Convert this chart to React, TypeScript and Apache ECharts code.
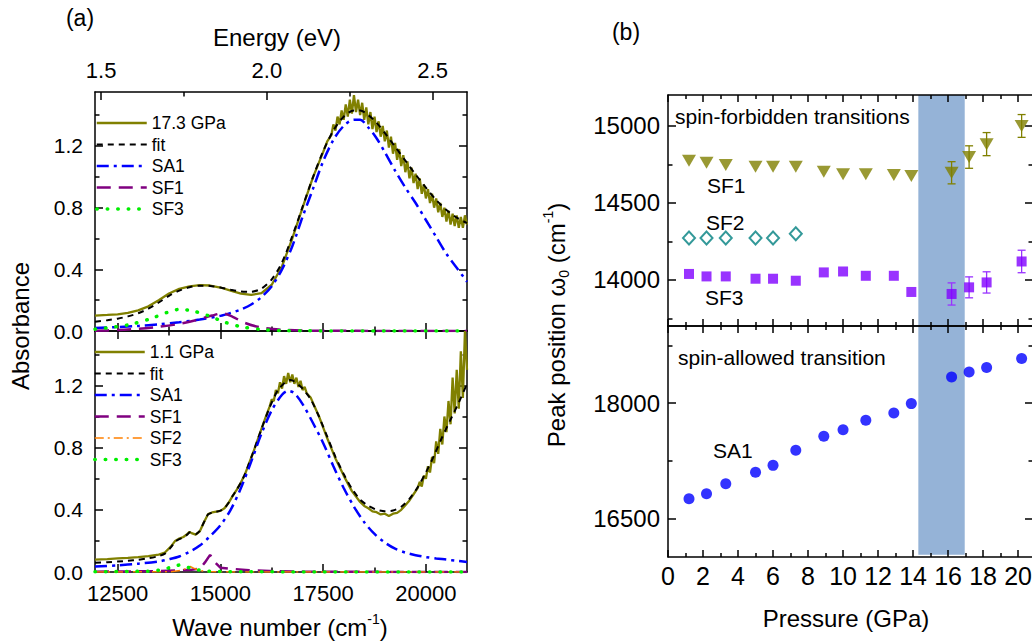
import React, { useEffect, useRef } from "react";
import * as echarts from "echarts";

const FONT = '"Liberation Sans", Arial, Helvetica, sans-serif';
const EV_TO_CM = 8065.54;

// ---------- ranges and ticks ----------
const waveRange: [number, number] = [11950, 21000];
const absRange: [number, number] = [0, 1.55];
const pressureRange: [number, number] = [0, 20.85];
const sfRange: [number, number] = [13700, 15200];
const saRange: [number, number] = [16000, 19000];

const waveMajorTicks = [12500, 15000, 17500, 20000];
const waveMinorTicks = [13750, 16250, 18750];
const energyMajorTicks = [1.5, 2.0, 2.5];
const energyMinorTicks = [1.75, 2.25];
const absMajorTicks = [0, 0.4, 0.8, 1.2];
const absMinorTicks = [0.2, 0.6, 1.0, 1.4];
const pressureMajorTicks = [0, 2, 4, 6, 8, 10, 12, 14, 16, 18, 20];
const pressureMinorTicks = [1, 3, 5, 7, 9, 11, 13, 15, 17, 19];
const sfMajorTicks = [14000, 14500, 15000];
const sfMinorTicks = [13750, 14250, 14750];
const saMajorTicks = [16500, 18000];
const saMinorTicks = [17250, 18750];

// ---------- panel (a), 17.3 GPa ----------
const spec173: number[][] = [
  [11950, 0.1], [12250, 0.104], [12500, 0.108], [12750, 0.118], [13000, 0.134], [13250, 0.16],
  [13500, 0.2], [13750, 0.243], [14000, 0.273], [14250, 0.29], [14500, 0.298], [14750, 0.295],
  [15000, 0.282], [15250, 0.262], [15500, 0.243], [15750, 0.234], [16000, 0.246], [16250, 0.3],
  [16500, 0.42], [16750, 0.6], [17000, 0.8], [17250, 0.995], [17500, 1.16], [17600, 1.23],
  [17700, 1.27], [17750, 1.34], [17800, 1.3], [17850, 1.39], [17900, 1.34], [17950, 1.43],
  [18000, 1.37], [18050, 1.47], [18100, 1.39], [18150, 1.5], [18200, 1.41], [18250, 1.53],
  [18300, 1.42], [18350, 1.5], [18400, 1.4], [18450, 1.48], [18500, 1.37], [18550, 1.45],
  [18600, 1.34], [18650, 1.42], [18700, 1.31], [18750, 1.39], [18800, 1.29], [18850, 1.36],
  [18900, 1.26], [18950, 1.33], [19000, 1.23], [19050, 1.3], [19100, 1.19], [19150, 1.26],
  [19200, 1.15], [19250, 1.22], [19300, 1.11], [19350, 1.18], [19400, 1.07], [19450, 1.14],
  [19500, 1.03], [19550, 1.1], [19600, 0.99], [19650, 1.06], [19700, 0.96], [19750, 1.02],
  [19800, 0.92], [19850, 0.99], [19900, 0.89], [19950, 0.95], [20000, 0.86], [20050, 0.92],
  [20100, 0.83], [20150, 0.89], [20200, 0.8], [20250, 0.86], [20300, 0.77], [20350, 0.83],
  [20400, 0.74], [20450, 0.8], [20500, 0.71], [20550, 0.78], [20600, 0.69], [20650, 0.76],
  [20700, 0.68], [20750, 0.75], [20800, 0.67], [20850, 0.74], [20900, 0.67], [20950, 0.75],
  [21000, 0.69],
];
const fit173: number[][] = [
  [11950, 0.06], [12250, 0.07], [12500, 0.08], [12750, 0.095], [13000, 0.115], [13250, 0.145],
  [13500, 0.185], [13750, 0.228], [14000, 0.262], [14250, 0.284], [14500, 0.294], [14750, 0.292],
  [15000, 0.282], [15250, 0.268], [15500, 0.257], [15750, 0.255], [16000, 0.275], [16250, 0.335],
  [16500, 0.445], [16750, 0.615], [17000, 0.805], [17250, 0.995], [17500, 1.165], [17750, 1.3],
  [18000, 1.39], [18250, 1.43], [18400, 1.43], [18600, 1.4], [18800, 1.35], [19000, 1.285],
  [19250, 1.195], [19500, 1.105], [19750, 1.015], [20000, 0.93], [20250, 0.85], [20500, 0.785],
  [20750, 0.735], [21000, 0.7],
];
const sa1_173: number[][] = [
  [11950, 0.02], [12500, 0.025], [13000, 0.033], [13500, 0.043], [14000, 0.057], [14500, 0.075],
  [15000, 0.098], [15250, 0.117], [15500, 0.14], [15750, 0.172], [16000, 0.22], [16250, 0.29],
  [16500, 0.4], [16750, 0.55], [17000, 0.74], [17250, 0.92], [17500, 1.1], [17750, 1.24],
  [18000, 1.33], [18250, 1.37], [18400, 1.37], [18600, 1.32], [18800, 1.25], [19000, 1.16],
  [19250, 1.04], [19500, 0.93], [19750, 0.83], [20000, 0.72], [20250, 0.61], [20500, 0.5],
  [20750, 0.41], [21000, 0.32],
];
const sf1_173: number[][] = [
  [11950, 0.002], [12500, 0.006], [13000, 0.014], [13500, 0.027], [14000, 0.046], [14400, 0.07],
  [14800, 0.1], [15050, 0.115], [15300, 0.092], [15600, 0.052], [16000, 0.022], [16500, 0.008],
  [17000, 0.003], [18000, 0.001], [21000, 0],
];
const sf3_173: number[][] = [
  [11950, 0.012], [12300, 0.022], [12800, 0.042], [13300, 0.08], [13700, 0.12], [14000, 0.14],
  [14300, 0.132], [14700, 0.1], [15100, 0.058], [15500, 0.028], [16000, 0.01], [16500, 0.003],
  [17000, 0.001], [21000, 0],
];

// ---------- panel (a), 1.1 GPa ----------
const spec11: number[][] = [
  [11950, 0.08], [12250, 0.083], [12500, 0.087], [12750, 0.091], [13000, 0.096], [13250, 0.102],
  [13500, 0.112], [13650, 0.125], [13800, 0.165], [13900, 0.2], [14000, 0.215], [14100, 0.225],
  [14200, 0.245], [14250, 0.258], [14300, 0.25], [14400, 0.24], [14500, 0.262], [14600, 0.32],
  [14700, 0.372], [14800, 0.383], [14900, 0.388], [15000, 0.393], [15100, 0.41], [15200, 0.445],
  [15300, 0.49], [15400, 0.53], [15500, 0.575], [15600, 0.63], [15700, 0.7], [15800, 0.77],
  [15900, 0.845], [16000, 0.92], [16100, 0.995], [16200, 1.065], [16250, 1.11], [16300, 1.1],
  [16350, 1.17], [16400, 1.15], [16450, 1.22], [16500, 1.18], [16550, 1.26], [16600, 1.21],
  [16650, 1.28], [16700, 1.22], [16750, 1.27], [16800, 1.21], [16850, 1.25], [16900, 1.19],
  [16950, 1.23], [17000, 1.17], [17050, 1.19], [17100, 1.15], [17200, 1.12], [17300, 1.06],
  [17400, 1.0], [17500, 0.93], [17600, 0.86], [17700, 0.795], [17800, 0.73], [17900, 0.675],
  [18000, 0.62], [18100, 0.57], [18200, 0.52], [18300, 0.485], [18400, 0.45], [18500, 0.425],
  [18600, 0.41], [18700, 0.39], [18800, 0.385], [18900, 0.37], [19000, 0.375], [19100, 0.36],
  [19200, 0.375], [19300, 0.38], [19400, 0.4], [19500, 0.43], [19600, 0.46], [19700, 0.5],
  [19800, 0.54], [19850, 0.58], [19900, 0.55], [19950, 0.62], [20000, 0.6], [20050, 0.68],
  [20100, 0.64], [20150, 0.74], [20200, 0.7], [20250, 0.84], [20300, 0.76], [20350, 0.92],
  [20400, 0.82], [20450, 1.0], [20500, 0.9], [20550, 1.1], [20600, 0.95], [20650, 1.25],
  [20700, 1.02], [20750, 1.3], [20800, 1.05], [20850, 1.42], [20900, 1.12], [20950, 1.55],
  [21000, 1.3],
];
const fit11: number[][] = [
  [11950, 0.06], [12250, 0.063], [12500, 0.067], [12750, 0.072], [13000, 0.079], [13250, 0.088],
  [13500, 0.102], [13650, 0.118], [13800, 0.16], [13900, 0.195], [14000, 0.212], [14100, 0.222],
  [14200, 0.242], [14250, 0.255], [14300, 0.25], [14400, 0.243], [14500, 0.265], [14600, 0.32],
  [14700, 0.37], [14800, 0.383], [14900, 0.388], [15000, 0.395], [15100, 0.41], [15200, 0.445],
  [15300, 0.49], [15400, 0.53], [15500, 0.575], [15600, 0.63], [15700, 0.7], [15800, 0.77],
  [15900, 0.845], [16000, 0.92], [16200, 1.06], [16400, 1.17], [16600, 1.225], [16700, 1.235],
  [16800, 1.225], [17000, 1.18], [17200, 1.11], [17400, 1.0], [17600, 0.87], [17800, 0.74],
  [18000, 0.63], [18200, 0.535], [18400, 0.465], [18600, 0.425], [18800, 0.4], [19000, 0.39],
  [19200, 0.395], [19400, 0.42], [19600, 0.47], [19800, 0.545], [20000, 0.64], [20200, 0.75],
  [20400, 0.87], [20600, 0.98], [20800, 1.09], [21000, 1.21],
];
const sa1_11: number[][] = [
  [11950, 0.035], [12500, 0.043], [13000, 0.053], [13500, 0.068], [13750, 0.082], [14000, 0.1],
  [14250, 0.13], [14500, 0.17], [14750, 0.23], [15000, 0.3], [15250, 0.4], [15500, 0.54],
  [15750, 0.71], [16000, 0.89], [16250, 1.04], [16500, 1.14], [16650, 1.165], [16800, 1.15],
  [17000, 1.08], [17250, 0.96], [17500, 0.83], [17750, 0.68], [18000, 0.54], [18250, 0.42],
  [18500, 0.32], [18750, 0.245], [19000, 0.19], [19250, 0.15], [19500, 0.125], [19750, 0.108],
  [20000, 0.096], [20250, 0.087], [20500, 0.08], [20750, 0.072], [21000, 0.065],
];
const sf1_11: number[][] = [
  [11950, 0.002], [13000, 0.004], [13500, 0.006], [14000, 0.01], [14300, 0.015], [14500, 0.022],
  [14620, 0.06], [14750, 0.11], [14880, 0.06], [15000, 0.028], [15300, 0.02], [15700, 0.012],
  [16200, 0.006], [17000, 0.003], [18000, 0.001], [21000, 0],
];
const sf2_11: number[][] = [
  [11950, 0], [13800, 0.002], [14050, 0.01], [14180, 0.025], [14265, 0.035], [14350, 0.025],
  [14480, 0.01], [14700, 0.003], [15500, 0], [21000, 0],
];
const sf3_11: number[][] = [
  [11950, 0.001], [13300, 0.005], [13600, 0.015], [13850, 0.035], [14000, 0.045], [14150, 0.035],
  [14400, 0.015], [14700, 0.005], [15300, 0.001], [21000, 0],
];

// ---------- panel (b) ----------
const pressures = [1.2, 2.2, 3.3, 5.0, 6.0, 7.3, 8.9, 10.0, 11.3, 12.9, 13.9, 16.2, 17.2, 18.2, 20.2];
const sf1Pos = [14773, 14760, 14745, 14734, 14734, 14734, 14702, 14685, 14685, 14681, 14674, 14695, 14797, 14881, 14999];
const sf1Err = [0, 0, 0, 0, 0, 0, 0, 0, 0, 0, 0, 72, 73, 75, 74];
const sf2Pressures = [1.2, 2.2, 3.3, 5.0, 6.0, 7.3];
const sf2Pos = [14271, 14271, 14271, 14271, 14271, 14299];
const sf3Pos = [14038, 14022, 14022, 14007, 14007, 13994, 14048, 14054, 14026, 14026, 13921, 13908, 13951, 13983, 14119];
const sf3Err = [0, 0, 0, 0, 0, 0, 0, 0, 0, 0, 0, 72, 68, 69, 73];
const sa1Pos = [16756, 16821, 16951, 17102, 17190, 17385, 17567, 17653, 17775, 17870, 17992, 18338, 18403, 18460, 18577];
const bandPressure = [14.3, 16.95];

const legendTop = ["17.3 GPa", "fit", "SA1", "SF1", "SF3"];
const legendBottom = ["1.1 GPa", "fit", "SA1", "SF1", "SF2", "SF3"];

const AX = { color: "#000", width: 1.5 };
const plain = (v: number) => String(v);

function mkAxis(
  gridIndex: number,
  position: string,
  range: [number, number],
  ticks: number[],
  tickLen: number,
  showLine: boolean,
  label?: any
) {
  return {
    type: "value",
    gridIndex,
    position,
    min: range[0],
    max: range[1],
    axisLine: { show: showLine, onZero: false, lineStyle: AX },
    axisTick: { show: true, inside: true, length: tickLen, customValues: ticks, lineStyle: AX },
    axisLabel: label
      ? { show: true, color: "#000", fontFamily: FONT, formatter: plain, ...label }
      : { show: false },
    splitLine: { show: false },
    minorTick: { show: false },
  };
}

function lineSeries(name: string, data: number[][], panel: number, lineStyle: any, smooth: any = false) {
  const idx = panel === 0 ? 0 : 4;
  return {
    type: "line",
    name,
    data,
    xAxisIndex: idx,
    yAxisIndex: idx,
    symbol: "none",
    showSymbol: false,
    smooth,
    clip: true,
    silent: true,
    lineStyle,
    itemStyle: { color: lineStyle.color },
  };
}

const dataStyle = { color: "#808000", width: 2.3, type: "solid" };
const fitStyle = { color: "#000000", width: 2, type: [6, 5] };
const sa1Style = { color: "#0000ff", width: 2.5, type: [12, 5, 3, 5] };
const sf1Style = { color: "#800080", width: 2.5, type: [14, 8] };
const sf2Style = { color: "#ff8000", width: 1.5, type: [9, 4, 2, 4] };
const sf3Style = { color: "#00ee00", width: 3.5, type: [0.5, 10], cap: "round" };

function bandSeries(xi: number, yi: number, yLow: number, yHigh: number) {
  return {
    type: "custom",
    xAxisIndex: xi,
    yAxisIndex: yi,
    z: -1,
    silent: true,
    data: [[bandPressure[0], bandPressure[1], yLow, yHigh]],
    renderItem: (_p: any, api: any) => {
      const a = api.coord([api.value(0), api.value(3)]);
      const b = api.coord([api.value(1), api.value(2)]);
      return {
        type: "rect",
        shape: { x: a[0], y: a[1], width: b[0] - a[0], height: b[1] - a[1] },
        style: { fill: "#95b3d7" },
      };
    },
  };
}

function errSeries(values: number[], errs: number[], color: string) {
  return {
    type: "custom",
    xAxisIndex: 10,
    yAxisIndex: 8,
    z: 3,
    silent: true,
    data: pressures.map((p, i) => [p, values[i], errs[i]]).filter((d) => d[2] > 0),
    renderItem: (_p: any, api: any) => {
      const x = api.value(0);
      const y = api.value(1);
      const e = api.value(2);
      const t = api.coord([x, y + e]);
      const b = api.coord([x, y - e]);
      const cw = 4;
      const st = { stroke: color, lineWidth: 1.3 };
      return {
        type: "group",
        children: [
          { type: "line", shape: { x1: t[0], y1: t[1], x2: b[0], y2: b[1] }, style: st },
          { type: "line", shape: { x1: t[0] - cw, y1: t[1], x2: t[0] + cw, y2: t[1] }, style: st },
          { type: "line", shape: { x1: b[0] - cw, y1: b[1], x2: b[0] + cw, y2: b[1] }, style: st },
        ],
      };
    },
  };
}

function txt(x: number, y: number, text: string, size: number, extra: any = {}) {
  return {
    type: "text",
    x,
    y,
    silent: true,
    style: {
      text,
      fill: "#000",
      fontSize: size,
      fontFamily: FONT,
      align: "left",
      verticalAlign: "middle",
      ...extra,
    },
  };
}

const richTitle = {
  n: { fontSize: 24, fontFamily: FONT, lineHeight: 30, fill: "#000" },
  s: { fontSize: 14, fontFamily: FONT, lineHeight: 14, verticalAlign: "top", fill: "#000" },
  b: { fontSize: 14, fontFamily: FONT, lineHeight: 14, verticalAlign: "bottom", fill: "#000" },
};

export default function App() {
  const ref = useRef<HTMLDivElement>(null);

  useEffect(() => {
    if (!ref.current) return;
    const chart = echarts.init(ref.current, undefined, { renderer: "svg" });

    const xAxes = [
      mkAxis(0, "bottom", waveRange, waveMajorTicks, 8, true), // 0
      mkAxis(0, "bottom", waveRange, waveMinorTicks, 4.5, false), // 1
      mkAxis(0, "top", waveRange, energyMajorTicks.map((e) => e * EV_TO_CM), 8, true, {
        customValues: energyMajorTicks.map((e) => e * EV_TO_CM),
        formatter: (v: number) => (v / EV_TO_CM).toFixed(1),
        fontSize: 22,
        margin: 11,
      }), // 2
      mkAxis(0, "top", waveRange, energyMinorTicks.map((e) => e * EV_TO_CM), 4.5, false), // 3
      mkAxis(1, "bottom", waveRange, waveMajorTicks, 8, true, {
        customValues: waveMajorTicks,
        fontSize: 22,
        margin: 10,
      }), // 4
      mkAxis(1, "bottom", waveRange, waveMinorTicks, 4.5, false), // 5
      mkAxis(1, "top", waveRange, waveMajorTicks, 8, true), // 6
      mkAxis(1, "top", waveRange, waveMinorTicks, 4.5, false), // 7
      mkAxis(2, "top", pressureRange, pressureMajorTicks, 7, true), // 8
      mkAxis(2, "top", pressureRange, pressureMinorTicks, 4, false), // 9
      mkAxis(2, "bottom", pressureRange, pressureMajorTicks, 7, true), // 10
      mkAxis(2, "bottom", pressureRange, pressureMinorTicks, 4, false), // 11
      mkAxis(3, "top", pressureRange, pressureMajorTicks, 7, true), // 12
      mkAxis(3, "top", pressureRange, pressureMinorTicks, 4, false), // 13
      mkAxis(3, "bottom", pressureRange, pressureMajorTicks, 7, true, {
        customValues: pressureMajorTicks,
        fontSize: 25,
        margin: 6,
      }), // 14
      mkAxis(3, "bottom", pressureRange, pressureMinorTicks, 4, false), // 15
    ];

    const absLabel = {
      customValues: absMajorTicks,
      formatter: (v: number) => v.toFixed(1),
      fontSize: 21,
      margin: 12,
    };
    const yAxes = [
      mkAxis(0, "left", absRange, absMajorTicks, 8, true, absLabel), // 0
      mkAxis(0, "left", absRange, absMinorTicks, 4.5, false), // 1
      mkAxis(0, "right", absRange, absMajorTicks, 8, true), // 2
      mkAxis(0, "right", absRange, absMinorTicks, 4.5, false), // 3
      mkAxis(1, "left", absRange, absMajorTicks, 8, true, absLabel), // 4
      mkAxis(1, "left", absRange, absMinorTicks, 4.5, false), // 5
      mkAxis(1, "right", absRange, absMajorTicks, 8, true), // 6
      mkAxis(1, "right", absRange, absMinorTicks, 4.5, false), // 7
      mkAxis(2, "left", sfRange, sfMajorTicks, 8, true, {
        customValues: sfMajorTicks,
        fontSize: 24,
        margin: 8,
      }), // 8
      mkAxis(2, "left", sfRange, sfMinorTicks, 4.5, false), // 9
      mkAxis(2, "right", sfRange, sfMajorTicks, 8, true), // 10
      mkAxis(2, "right", sfRange, sfMinorTicks, 4.5, false), // 11
      mkAxis(3, "left", saRange, saMajorTicks, 8, true, {
        customValues: saMajorTicks,
        fontSize: 24,
        margin: 8,
      }), // 12
      mkAxis(3, "left", saRange, saMinorTicks, 4.5, false), // 13
      mkAxis(3, "right", saRange, saMajorTicks, 8, true), // 14
      mkAxis(3, "right", saRange, saMinorTicks, 4.5, false), // 15
    ];

    const legendCommon = {
      orient: "vertical",
      itemWidth: 50,
      itemHeight: 14,
      itemGap: 1.5,
      padding: 0,
      selectedMode: false,
      itemStyle: { opacity: 0 },
      lineStyle: { width: "inherit" },
      textStyle: { fontSize: 17.5, fontFamily: FONT, color: "#000", lineHeight: 20 },
    };

    const option: any = {
      animation: false,
      backgroundColor: "#fff",
      textStyle: { fontFamily: FONT },
      grid: [
        { left: 95, top: 92, width: 372, height: 239, outerBoundsMode: "none" },
        { left: 95, top: 331, width: 372, height: 241, outerBoundsMode: "none" },
        { left: 668, top: 95, width: 365, height: 231, outerBoundsMode: "none" },
        { left: 668, top: 326, width: 365, height: 231, outerBoundsMode: "none" },
      ],
      xAxis: xAxes,
      yAxis: yAxes,
      legend: [
        { ...legendCommon, left: 95, top: 113, data: legendTop },
        { ...legendCommon, left: 93, top: 342, data: legendBottom },
      ],
      series: [
        lineSeries("17.3 GPa", spec173, 0, dataStyle),
        lineSeries("fit", fit173, 0, fitStyle, 0.3),
        lineSeries("SA1", sa1_173, 0, sa1Style, 0.3),
        lineSeries("SF1", sf1_173, 0, sf1Style, 0.3),
        lineSeries("SF3", sf3_173, 0, sf3Style, 0.3),
        lineSeries("1.1 GPa", spec11, 1, dataStyle),
        lineSeries("fit", fit11, 1, fitStyle, 0.2),
        lineSeries("SA1", sa1_11, 1, sa1Style, 0.3),
        lineSeries("SF1", sf1_11, 1, sf1Style),
        lineSeries("SF2", sf2_11, 1, sf2Style),
        lineSeries("SF3", sf3_11, 1, sf3Style),

        bandSeries(10, 8, sfRange[0], sfRange[1]),
        bandSeries(14, 12, 16030, saRange[1]),
        errSeries(sf1Pos, sf1Err, "#808000"),
        errSeries(sf3Pos, sf3Err, "#9933ff"),
        {
          type: "scatter",
          name: "SF1 position",
          xAxisIndex: 10,
          yAxisIndex: 8,
          z: 4,
          silent: true,
          symbol: "triangle",
          symbolRotate: 180,
          symbolSize: [14, 12],
          itemStyle: { color: "#808000" },
          data: pressures.map((p, i) => [p, sf1Pos[i]]),
        },
        {
          type: "scatter",
          name: "SF2 position",
          xAxisIndex: 10,
          yAxisIndex: 8,
          z: 4,
          silent: true,
          symbol: "diamond",
          symbolSize: [12, 13],
          itemStyle: { color: "#ffffff", borderColor: "#008080", borderWidth: 2 },
          data: sf2Pressures.map((p, i) => [p, sf2Pos[i]]),
        },
        {
          type: "scatter",
          name: "SF3 position",
          xAxisIndex: 10,
          yAxisIndex: 8,
          z: 4,
          silent: true,
          symbol: "rect",
          symbolSize: 10,
          itemStyle: { color: "#8000ff" },
          data: pressures.map((p, i) => [p, sf3Pos[i]]),
        },
        {
          type: "scatter",
          name: "SA1 position",
          xAxisIndex: 14,
          yAxisIndex: 12,
          z: 4,
          silent: true,
          symbol: "circle",
          symbolSize: 11,
          itemStyle: { color: "#0000ff" },
          data: pressures.map((p, i) => [p, sa1Pos[i]]),
        },
      ],
      graphic: [
        txt(80, 17.5, "(a)", 23, { align: "center" }),
        txt(277, 37.5, "Energy (eV)", 24, { align: "center" }),
        {
          type: "text",
          x: 20,
          y: 326,
          rotation: Math.PI / 2,
          silent: true,
          style: {
            text: "Absorbance",
            fill: "#000",
            fontSize: 24,
            fontFamily: FONT,
            align: "center",
            verticalAlign: "middle",
          },
        },
        {
          type: "text",
          x: 280,
          y: 627,
          silent: true,
          style: {
            text: "{n|Wave number (cm}{s|-1}{n|)}",
            rich: richTitle,
            align: "center",
            verticalAlign: "middle",
          },
        },
        txt(626, 32, "(b)", 23, { align: "center" }),
        txt(846, 618, "Pressure (GPa)", 24, { align: "center" }),
        {
          type: "text",
          x: 556,
          y: 325,
          rotation: Math.PI / 2,
          silent: true,
          style: {
            text: "{n|Peak position ω}{b|0}{n| (cm}{s|-1}{n|)}",
            rich: richTitle,
            align: "center",
            verticalAlign: "middle",
          },
        },
        txt(675, 116.5, "spin-forbidden transitions", 21),
        txt(707, 185, "SF1", 21),
        txt(706, 222, "SF2", 21),
        txt(705, 297, "SF3", 21),
        txt(678, 357, "spin-allowed transition", 21),
        txt(713, 450, "SA1", 21),
      ],
    };

    chart.setOption(option);
    return () => {
      chart.dispose();
    };
  }, []);

  return (
    <div
      style={{
        position: "fixed",
        left: 0,
        top: 0,
        width: 1032,
        height: 644,
        overflow: "hidden",
        background: "#fff",
      }}
    >
      <div ref={ref} style={{ width: 1040, height: 644 }} />
    </div>
  );
}
